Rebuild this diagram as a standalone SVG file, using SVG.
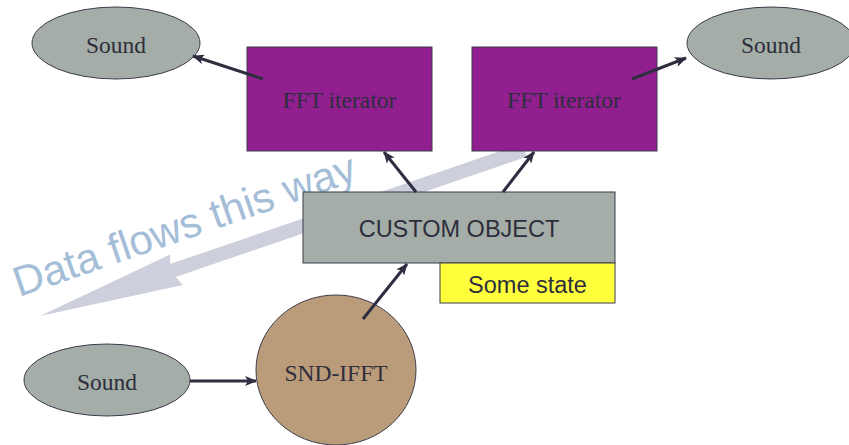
<svg xmlns="http://www.w3.org/2000/svg" width="849" height="445" viewBox="0 0 849 445">
  <style>
    .serif { font-family: "Liberation Serif", "Times New Roman", serif; font-size: 23.5px; fill: #2e2e3c; text-anchor: middle; }
    .sans { font-family: "Liberation Sans", Arial, sans-serif; font-size: 23.5px; fill: #2e2e3c; text-anchor: middle; }
    .sound { fill: #a4ada7; stroke: #3c3c4c; stroke-width: 1; }
    .fft { fill: #921f8f; stroke: #3c3c4c; stroke-width: 1; }
    .custom { fill: #a4ada7; stroke: #3c3c4c; stroke-width: 1; }
    .state { fill: #ffff3c; stroke: #3c3c4c; stroke-width: 1; }
    .ifft { fill: #bb9c7a; stroke: #3c3c4c; stroke-width: 1; }
    .edge { stroke: #2e2e40; stroke-width: 3; fill: none; marker-end: url(#arrow); }
    .flow { fill: #cdcfdc; }
    .flowtext { font-family: "Liberation Sans", Arial, sans-serif; font-size: 42px; fill: #a5bed8; }
  </style>
  <defs>
    <marker id="arrow" markerUnits="userSpaceOnUse" markerWidth="12" markerHeight="10" refX="11" refY="5" orient="auto">
      <path d="M0,0 L12,5 L0,10 L3,5 Z" fill="#2e2e40"/>
    </marker>
  </defs>

  <rect width="849" height="445" fill="#ffffff"/>

  <!-- wide background arrow showing the direction of data flow -->
  <g id="data-flow">
    <polygon class="flow" transform="translate(40,316) rotate(-18.9)"
             points="0,0 143,-16 140,-7 512,-7 512,7 141,7 145,17"/>
    <text class="flowtext" transform="translate(19,297) rotate(-19)">Data flows this way</text>
  </g>

  <g id="sound-out-left">
    <ellipse class="sound" cx="116" cy="43" rx="84" ry="36"/>
    <text class="serif" x="116" y="53">Sound</text>
  </g>

  <g id="sound-out-right">
    <ellipse class="sound" cx="771" cy="43" rx="84" ry="36"/>
    <text class="serif" x="771" y="53">Sound</text>
  </g>

  <g id="fft-left">
    <rect class="fft" x="247" y="47" width="185" height="104"/>
    <text class="serif" x="339.5" y="108">FFT iterator</text>
  </g>

  <g id="fft-right">
    <rect class="fft" x="472" y="47" width="185" height="104"/>
    <text class="serif" x="564" y="108">FFT iterator</text>
  </g>

  <g id="custom-object">
    <rect class="custom" x="303" y="192" width="312" height="71"/>
    <text class="sans" x="459" y="237">CUSTOM OBJECT</text>
  </g>

  <g id="some-state">
    <rect class="state" x="440" y="263" width="175" height="40"/>
    <text class="sans" x="527.5" y="293">Some state</text>
  </g>

  <g id="snd-ifft">
    <ellipse class="ifft" cx="336" cy="370" rx="80" ry="75"/>
    <text class="serif" x="336" y="381">SND-IFFT</text>
  </g>

  <g id="sound-in">
    <ellipse class="sound" cx="107" cy="380" rx="83" ry="36"/>
    <text class="serif" x="107" y="390">Sound</text>
  </g>

  <g id="connectors">
    <line class="edge" x1="190" y1="381" x2="256" y2="381"/>
    <line class="edge" x1="363" y1="319" x2="407" y2="264"/>
    <line class="edge" x1="416" y1="192" x2="384" y2="152"/>
    <line class="edge" x1="503" y1="192" x2="534" y2="152"/>
    <line class="edge" x1="263" y1="79" x2="193" y2="56"/>
    <line class="edge" x1="632" y1="79" x2="686" y2="58"/>
  </g>
</svg>
